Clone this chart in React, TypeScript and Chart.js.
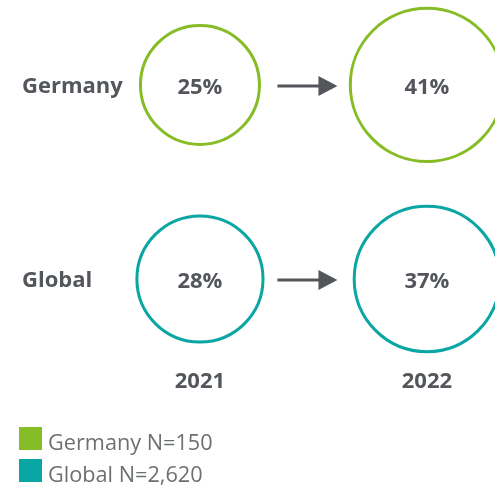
import React, { useEffect, useRef } from 'react';
import { Chart, registerables } from 'chart.js';

Chart.register(...registerables);

const years = ['2021', '2022'];
const regions = ['Germany', 'Global'];
const germanyValues = [25, 41];
const globalValues = [28, 37];
const legendLabels = ['Germany N=150', 'Global N=2,620'];
const colors = ['#86bc25', '#0aa6a4'];

const TEXT_DARK = '#53565a';
const TEXT_LIGHT = '#6d7073';
const FONT = '"Open Sans", "Noto Sans", sans-serif';

const radiusFor = (v: number) => 12.2 * Math.sqrt(v) - 1.5;

const labelsPlugin = {
  id: 'customLabels',
  afterDatasetsDraw(chart: any) {
    const ctx = chart.ctx as CanvasRenderingContext2D;
    const xs = chart.scales.x;
    const ys = chart.scales.y;
    ctx.save();
    // row labels
    ctx.fillStyle = TEXT_DARK;
    ctx.font = `bold 22px ${FONT}`;
    ctx.textBaseline = 'alphabetic';
    ctx.textAlign = 'left';
    regions.forEach((r, i) => {
      ctx.fillText(r, 22, ys.getPixelForValue(i) + 8);
    });
    // values
    ctx.textAlign = 'center';
    chart.data.datasets.forEach((ds: any) => {
      ds.data.forEach((p: any) => {
        ctx.fillText(`${p.v}%`, xs.getPixelForValue(p.x), ys.getPixelForValue(p.y) + 9.5);
      });
    });
    // year labels
    years.forEach((y, i) => {
      ctx.fillText(y, xs.getPixelForValue(i), ys.getPixelForValue(1.562));
    });
    // arrows
    const x0 = xs.getPixelForValue(0);
    const x1 = xs.getPixelForValue(1);
    const mid = (x0 + x1) / 2 - 6;
    ctx.strokeStyle = TEXT_DARK;
    ctx.lineWidth = 3;
    regions.forEach((_, i) => {
      const y = ys.getPixelForValue(i) + 1;
      ctx.beginPath();
      ctx.moveTo(mid - 30, y);
      ctx.lineTo(mid + 13, y);
      ctx.stroke();
      ctx.beginPath();
      ctx.moveTo(mid + 11, y - 10);
      ctx.lineTo(mid + 30, y);
      ctx.lineTo(mid + 11, y + 10);
      ctx.closePath();
      ctx.fill();
    });
    // legend
    ctx.textAlign = 'left';
    ctx.font = `21.7px ${FONT}`;
    legendLabels.forEach((l, i) => {
      const top = 427 + i * 32;
      ctx.fillStyle = colors[i];
      ctx.fillRect(19, top, 23, 23);
      ctx.fillStyle = TEXT_LIGHT;
      ctx.fillText(l, 48, top + 23);
    });
    ctx.restore();
  },
};

export default function App() {
  const ref = useRef<HTMLCanvasElement>(null);
  useEffect(() => {
    if (!ref.current) return;
    const series = [germanyValues, globalValues];
    const chart = new Chart(ref.current, {
      type: 'bubble',
      data: {
        datasets: regions.map((name, row) => ({
          label: name,
          data: series[row].map((v, col) => ({ x: col, y: row, r: radiusFor(v), v })),
          backgroundColor: 'rgba(255,255,255,0)',
          borderColor: colors[row],
          borderWidth: 3,
          hoverBorderWidth: 3,
          clip: false as any,
        })),
      },
      options: {
        responsive: false,
        animation: false,
        events: [],
        layout: { padding: 0, autoPadding: false },
        plugins: { legend: { display: false }, tooltip: { enabled: false } },
        scales: {
          x: { type: 'linear', display: false, min: -0.881, max: 1.3 },
          y: { type: 'linear', display: false, reverse: true, min: -0.438, max: 2.067 },
        },
      },
      plugins: [labelsPlugin],
    });
    return () => chart.destroy();
  }, []);
  return (
    <div style={{ position: 'fixed', left: 0, top: 0, width: 495, height: 486, background: '#fff' }}>
      <canvas ref={ref} width={495} height={486} style={{ display: 'block' }} />
    </div>
  );
}
